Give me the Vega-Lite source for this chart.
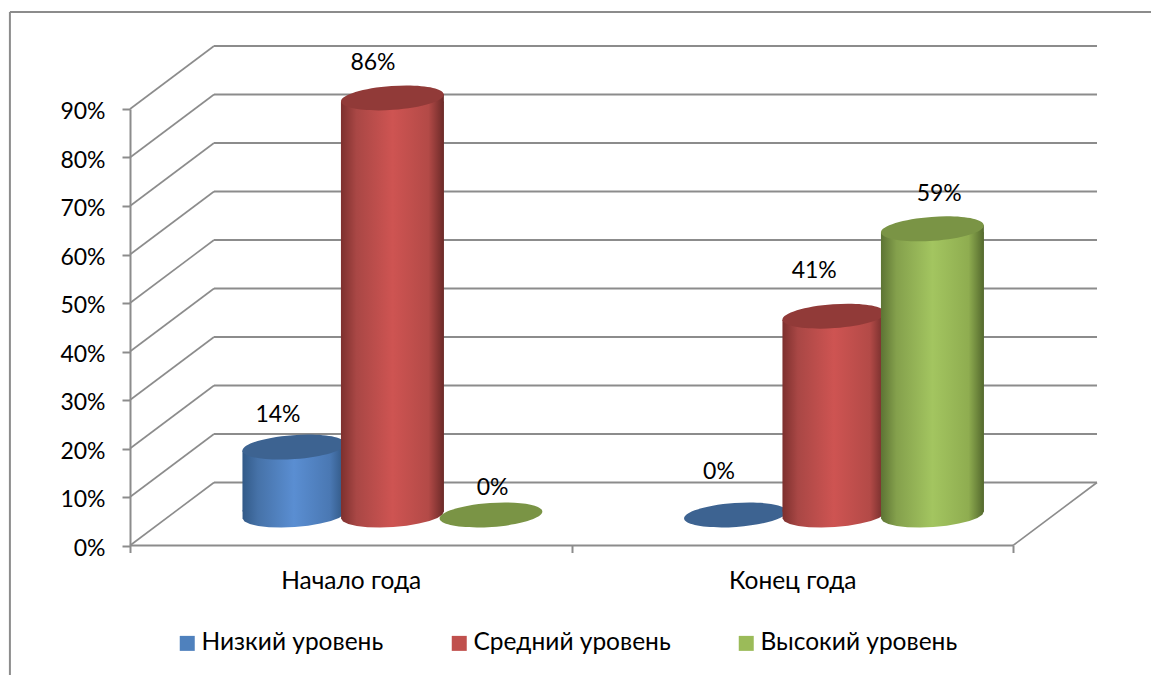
{
"$schema":"https://vega.github.io/schema/vega-lite/v6.json",
"width":883,"height":436.5,
"autosize":{"type":"none"},
"padding":{"left":130,"top":109,"right":138,"bottom":129.5},
"background":"white",
"config":{"view":{"stroke":null},"font":"Lato","text":{"font":"Lato"}},
"datasets":{
"levels":[{"level":0},{"level":0.1},{"level":0.2},{"level":0.3},{"level":0.4},{"level":0.5},{"level":0.6},{"level":0.7},{"level":0.8},{"level":0.9}],
"bars":[
{"period":"Начало года","series":"Низкий уровень","value":0.14},
{"period":"Начало года","series":"Средний уровень","value":0.86},
{"period":"Начало года","series":"Высокий уровень","value":0},
{"period":"Конец года","series":"Низкий уровень","value":0},
{"period":"Конец года","series":"Средний уровень","value":0.41},
{"period":"Конец года","series":"Высокий уровень","value":0.59}
]},
"resolve":{"scale":{"x":"independent"}},
"layer":[
{"data":{"name":"levels"},
 "layer":[
 {"mark":{"type":"rule","color":"#8c8c8c","strokeWidth":2,"xOffset":84,"x2Offset":84,"yOffset":-63,"y2Offset":-63},
  "encoding":{"x":{"datum":0,"type":"quantitative","scale":{"domain":[0,2]},"axis":null},"x2":{"datum":2},
   "y":{"field":"level","type":"quantitative","scale":{"domain":[0,0.9],"nice":false},
    "axis":{"format":".0%","values":[0,0.1,0.2,0.3,0.4,0.5,0.6,0.7,0.8,0.9],"title":null,"grid":false,"domainColor":"#8c8c8c","domainWidth":2,"tickColor":"#8c8c8c","tickWidth":2,"tickSize":8,"labelPadding":17,"labelOffset":2.5,"labelFont":"Lato","labelFontSize":23,"labelColor":"#000000"}}}},
 {"mark":{"type":"rule","color":"#8c8c8c","strokeWidth":1.6,"x2Offset":84,"y2Offset":-63},
  "encoding":{"x":{"datum":0,"type":"quantitative"},"x2":{"datum":0},"y":{"field":"level","type":"quantitative"},"y2":{"field":"level"}}},
 {"transform":[{"filter":"datum.level==0"}],
  "mark":{"type":"rule","color":"#8c8c8c","strokeWidth":2},
  "encoding":{"x":{"datum":0,"type":"quantitative"},"x2":{"datum":2},"y":{"field":"level","type":"quantitative"}}},
 {"transform":[{"filter":"datum.level==0"}],
  "mark":{"type":"rule","color":"#8c8c8c","strokeWidth":1.6,"x2Offset":84,"y2Offset":-63},
  "encoding":{"x":{"datum":2,"type":"quantitative"},"x2":{"datum":2},"y":{"field":"level","type":"quantitative"},"y2":{"field":"level"}}},
 {"transform":[{"filter":"datum.level==0"}],
  "mark":{"type":"rule","color":"#8c8c8c","strokeWidth":2},
  "encoding":{"x":{"datum":-0.272,"type":"quantitative"},"x2":{"datum":2.4},"y":{"datum":1.1,"type":"quantitative"}}},
 {"transform":[{"filter":"datum.level==0"}],
  "mark":{"type":"rule","color":"#8c8c8c","strokeWidth":2},
  "encoding":{"x":{"datum":-0.272,"type":"quantitative"},"y":{"datum":1.1,"type":"quantitative"},"y2":{"datum":-0.27}}}
 ]},
{"data":{"name":"bars"},
 "mark":{"type":"point","size":0,"opacity":0},
 "encoding":{"x":{"field":"period","type":"nominal","sort":["Начало года","Конец года"],
   "scale":{"paddingInner":0,"paddingOuter":0},
   "axis":{"title":null,"orient":"bottom","domain":false,"tickBand":"extent","tickColor":"#8c8c8c","tickWidth":2,"tickSize":7,"labelAngle":0,"labelPadding":17,"labelFont":"Lato","labelFontSize":24.5,"labelColor":"#000000"}},
  "y":{"datum":0,"type":"quantitative"}}},
{"data":{"name":"bars"},
 "encoding":{
  "x":{"field":"period","type":"nominal","sort":["Начало года","Конец года"],"axis":null,"scale":{"range":[41.7,924.7],"paddingInner":0,"paddingOuter":0}},
  "xOffset":{"field":"series","type":"nominal","sort":["Низкий уровень","Средний уровень","Высокий уровень"],"scale":{"domain":["Низкий уровень","Средний уровень","Высокий уровень"],"paddingInner":0,"paddingOuter":0.741}},
  "y":{"field":"value","type":"quantitative"}},
 "layer":[
 {"mark":{"type":"point","size":0,"filled":true},
  "encoding":{"color":{"field":"series","type":"nominal","scale":{"domain":["Низкий уровень","Средний уровень","Высокий уровень"],"range":["#4f81bd","#c0504d","#9bbb59"]},
   "legend":{"title":null,"orient":"none","legendX":45,"legendY":522,"direction":"horizontal","columns":3,"columnPadding":63,"symbolType":"square","symbolSize":225,"symbolOpacity":1,"labelOffset":2,"labelFont":"Lato","labelFontSize":24.5,"labelColor":"#000000","labelLimit":400}}}},
 {"transform":[{"filter":"datum.series=='Низкий уровень'"}],
  "layer":[
  {"transform":[{"filter":"datum.value>0"}],"mark":{"type":"bar","width":103,"yOffset":-27,"y2Offset":-34,"fill":{"gradient":"linear","x1":0,"x2":1,"y1":0,"y2":0,"stops":[{"offset":0,"color":"#325a88"},{"offset":0.15,"color":"#4672a8"},{"offset":0.5,"color":"#5a8ed2"},{"offset":0.85,"color":"#4a78b3"},{"offset":1,"color":"#2f5580"}]}},
   "encoding":{"y2":{"datum":0}}},
  {"transform":[{"filter":"datum.value>0"}],"mark":{"type":"point","filled":true,"opacity":1,"size":10609,"yOffset":-30.5,"shape":"M-0.998,-0.09L-0.998,0.07L-0.959,0.128L-0.856,0.177L-0.694,0.214L-0.485,0.236L-0.243,0.243L0.016,0.232L0.274,0.207L0.513,0.166L0.717,0.115L0.872,0.056L0.968,-0.007L0.998,-0.07L0.998,-0.09Z","fill":{"gradient":"linear","x1":0,"x2":1,"y1":0,"y2":0,"stops":[{"offset":0,"color":"#325a88"},{"offset":0.15,"color":"#4672a8"},{"offset":0.5,"color":"#5a8ed2"},{"offset":0.85,"color":"#4a78b3"},{"offset":1,"color":"#2f5580"}]}},
   "encoding":{"y":{"datum":0,"type":"quantitative"}}},
  {"transform":[{"filter":"datum.value>0"}],"mark":{"type":"point","filled":true,"opacity":1,"size":10609,"yOffset":-30.5,"shape":"M-0.998,0.07L-0.998,0.09L0.998,0.09L0.998,-0.07Z","fill":{"gradient":"linear","x1":0,"x2":1,"y1":0,"y2":0,"stops":[{"offset":0,"color":"#325a88"},{"offset":0.15,"color":"#4672a8"},{"offset":0.5,"color":"#5a8ed2"},{"offset":0.85,"color":"#4a78b3"},{"offset":1,"color":"#2f5580"}]}}},
  {"mark":{"type":"point","filled":true,"opacity":1,"size":10609,"yOffset":-30.5,"shape":"M-0.998,0.07A1,0.233,-4,1,1,0.998,-0.07A1,0.233,-4,1,1,-0.998,0.07Z","fill":"#3d6391"}}
  ]},
 {"transform":[{"filter":"datum.series=='Средний уровень'"}],
  "layer":[
  {"transform":[{"filter":"datum.value>0"}],"mark":{"type":"bar","width":103,"yOffset":-27,"y2Offset":-34,"fill":{"gradient":"linear","x1":0,"x2":1,"y1":0,"y2":0,"stops":[{"offset":0,"color":"#7d302e"},{"offset":0.15,"color":"#a94745"},{"offset":0.5,"color":"#ce5452"},{"offset":0.85,"color":"#b34a47"},{"offset":1,"color":"#6b2a28"}]}},
   "encoding":{"y2":{"datum":0}}},
  {"transform":[{"filter":"datum.value>0"}],"mark":{"type":"point","filled":true,"opacity":1,"size":10609,"yOffset":-30.5,"shape":"M-0.998,-0.09L-0.998,0.07L-0.959,0.128L-0.856,0.177L-0.694,0.214L-0.485,0.236L-0.243,0.243L0.016,0.232L0.274,0.207L0.513,0.166L0.717,0.115L0.872,0.056L0.968,-0.007L0.998,-0.07L0.998,-0.09Z","fill":{"gradient":"linear","x1":0,"x2":1,"y1":0,"y2":0,"stops":[{"offset":0,"color":"#7d302e"},{"offset":0.15,"color":"#a94745"},{"offset":0.5,"color":"#ce5452"},{"offset":0.85,"color":"#b34a47"},{"offset":1,"color":"#6b2a28"}]}},
   "encoding":{"y":{"datum":0,"type":"quantitative"}}},
  {"transform":[{"filter":"datum.value>0"}],"mark":{"type":"point","filled":true,"opacity":1,"size":10609,"yOffset":-30.5,"shape":"M-0.998,0.07L-0.998,0.09L0.998,0.09L0.998,-0.07Z","fill":{"gradient":"linear","x1":0,"x2":1,"y1":0,"y2":0,"stops":[{"offset":0,"color":"#7d302e"},{"offset":0.15,"color":"#a94745"},{"offset":0.5,"color":"#ce5452"},{"offset":0.85,"color":"#b34a47"},{"offset":1,"color":"#6b2a28"}]}}},
  {"mark":{"type":"point","filled":true,"opacity":1,"size":10609,"yOffset":-30.5,"shape":"M-0.998,0.07A1,0.233,-4,1,1,0.998,-0.07A1,0.233,-4,1,1,-0.998,0.07Z","fill":"#913a38"}}
  ]},
 {"transform":[{"filter":"datum.series=='Высокий уровень'"}],
  "layer":[
  {"transform":[{"filter":"datum.value>0"}],"mark":{"type":"bar","width":103,"yOffset":-27,"y2Offset":-34,"fill":{"gradient":"linear","x1":0,"x2":1,"y1":0,"y2":0,"stops":[{"offset":0,"color":"#5d7434"},{"offset":0.15,"color":"#84a04c"},{"offset":0.5,"color":"#a3c560"},{"offset":0.85,"color":"#8fad50"},{"offset":1,"color":"#53682d"}]}},
   "encoding":{"y2":{"datum":0}}},
  {"transform":[{"filter":"datum.value>0"}],"mark":{"type":"point","filled":true,"opacity":1,"size":10609,"yOffset":-30.5,"shape":"M-0.998,-0.09L-0.998,0.07L-0.959,0.128L-0.856,0.177L-0.694,0.214L-0.485,0.236L-0.243,0.243L0.016,0.232L0.274,0.207L0.513,0.166L0.717,0.115L0.872,0.056L0.968,-0.007L0.998,-0.07L0.998,-0.09Z","fill":{"gradient":"linear","x1":0,"x2":1,"y1":0,"y2":0,"stops":[{"offset":0,"color":"#5d7434"},{"offset":0.15,"color":"#84a04c"},{"offset":0.5,"color":"#a3c560"},{"offset":0.85,"color":"#8fad50"},{"offset":1,"color":"#53682d"}]}},
   "encoding":{"y":{"datum":0,"type":"quantitative"}}},
  {"transform":[{"filter":"datum.value>0"}],"mark":{"type":"point","filled":true,"opacity":1,"size":10609,"yOffset":-30.5,"shape":"M-0.998,0.07L-0.998,0.09L0.998,0.09L0.998,-0.07Z","fill":{"gradient":"linear","x1":0,"x2":1,"y1":0,"y2":0,"stops":[{"offset":0,"color":"#5d7434"},{"offset":0.15,"color":"#84a04c"},{"offset":0.5,"color":"#a3c560"},{"offset":0.85,"color":"#8fad50"},{"offset":1,"color":"#53682d"}]}}},
  {"mark":{"type":"point","filled":true,"opacity":1,"size":10609,"yOffset":-30.5,"shape":"M-0.998,0.07A1,0.233,-4,1,1,0.998,-0.07A1,0.233,-4,1,1,-0.998,0.07Z","fill":"#7a9445"}}
  ]},
 {"transform":[{"filter":"datum.series=='Низкий уровень' && datum.period=='Начало года'"}],"mark":{"type":"text","font":"Lato","fontSize":23,"color":"#000000","baseline":"middle","dx":-16,"dy":-63},"encoding":{"text":{"field":"value","type":"quantitative","format":".0%"}}},
 {"transform":[{"filter":"datum.series=='Средний уровень' && datum.period=='Начало года'"}],"mark":{"type":"text","font":"Lato","fontSize":23,"color":"#000000","baseline":"middle","dx":-19.5,"dy":-65},"encoding":{"text":{"field":"value","type":"quantitative","format":".0%"}}},
 {"transform":[{"filter":"datum.series=='Высокий уровень' && datum.period=='Начало года'"}],"mark":{"type":"text","font":"Lato","fontSize":23,"color":"#000000","baseline":"middle","dx":1.7,"dy":-58},"encoding":{"text":{"field":"value","type":"quantitative","format":".0%"}}},
 {"transform":[{"filter":"datum.series=='Низкий уровень' && datum.period=='Конец года'"}],"mark":{"type":"text","font":"Lato","fontSize":23,"color":"#000000","baseline":"middle","dx":-16.5,"dy":-74},"encoding":{"text":{"field":"value","type":"quantitative","format":".0%"}}},
 {"transform":[{"filter":"datum.series=='Средний уровень' && datum.period=='Конец года'"}],"mark":{"type":"text","font":"Lato","fontSize":23,"color":"#000000","baseline":"middle","dx":-19.7,"dy":-76},"encoding":{"text":{"field":"value","type":"quantitative","format":".0%"}}},
 {"transform":[{"filter":"datum.series=='Высокий уровень' && datum.period=='Конец года'"}],"mark":{"type":"text","font":"Lato","fontSize":23,"color":"#000000","baseline":"middle","dx":6.8,"dy":-65.5},"encoding":{"text":{"field":"value","type":"quantitative","format":".0%"}}}
 ]}
]}
